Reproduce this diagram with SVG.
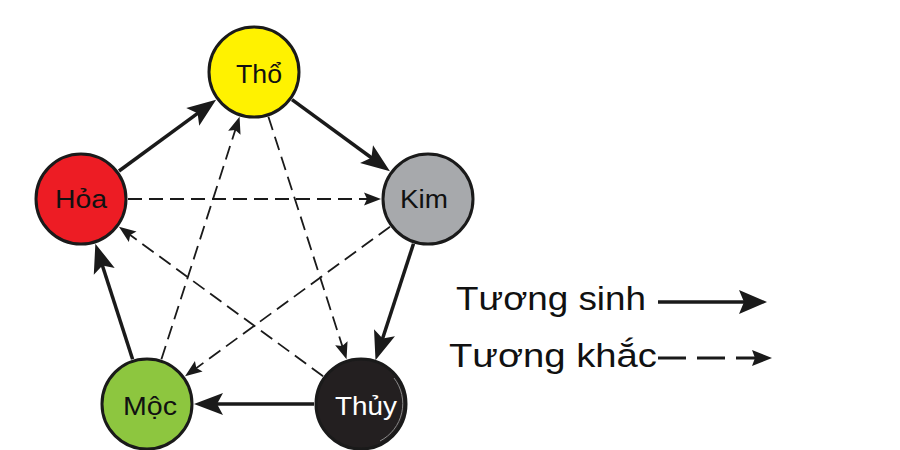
<svg xmlns="http://www.w3.org/2000/svg" width="900" height="450" viewBox="0 0 900 450">
<style>
.node{stroke:#1a1a1a;stroke-width:3}
.lbl{font-family:"Liberation Sans",Arial,sans-serif;font-size:26px;text-anchor:middle;fill:#111}
.leg{font-family:"Liberation Sans",Arial,sans-serif;font-size:34px;fill:#111}
.sinh{stroke:#1a1a1a;stroke-width:3.5;fill:none}
.khac{stroke:#1a1a1a;stroke-width:1.8;stroke-dasharray:14 7;fill:none}
</style>
<defs>
<marker id="solidHead" markerUnits="userSpaceOnUse" orient="auto" refX="0" refY="0" markerWidth="40" markerHeight="40" overflow="visible">
<path d="M20,0 L-9,-11 L-3,0 L-9,11 Z" fill="#1a1a1a"/>
</marker>
<marker id="dashHead" markerUnits="userSpaceOnUse" orient="auto" refX="0" refY="0" markerWidth="30" markerHeight="30" overflow="visible">
<path d="M8,0 L-9,-6.5 L-6,0 L-9,6.5 Z" fill="#1a1a1a"/>
</marker>
<marker id="legSolid" markerUnits="userSpaceOnUse" orient="auto" refX="0" refY="0" markerWidth="40" markerHeight="40" overflow="visible">
<path d="M20,0 L-8,-12 L-3,0 L-8,12 Z" fill="#1a1a1a"/>
</marker>
<marker id="legDash" markerUnits="userSpaceOnUse" orient="auto" refX="0" refY="0" markerWidth="30" markerHeight="30" overflow="visible">
<path d="M12,0 L-8,-8 L-5,0 L-8,8 Z" fill="#1a1a1a"/>
</marker>
</defs>
<rect width="900" height="450" fill="#ffffff"/>
<g id="connectors">
<line class="sinh" x1="119" y1="171" x2="200" y2="111.6" marker-end="url(#solidHead)"/>
<line class="sinh" x1="292" y1="99.7" x2="373.8" y2="159.5" marker-end="url(#solidHead)"/>
<line class="sinh" x1="413.5" y1="243.7" x2="381.7" y2="341.3" marker-end="url(#solidHead)"/>
<line class="sinh" x1="314" y1="404" x2="214" y2="404" marker-end="url(#solidHead)"/>
<line class="sinh" x1="132.6" y1="359.3" x2="101.5" y2="262.7" marker-end="url(#solidHead)"/>
<line class="khac" x1="128" y1="199" x2="373" y2="199" marker-end="url(#dashHead)"/>
<line class="khac" x1="161.4" y1="359.3" x2="237.1" y2="124.3" marker-end="url(#dashHead)"/>
<line class="khac" x1="268.4" y1="116.7" x2="344.1" y2="351.7" marker-end="url(#dashHead)"/>
<line class="khac" x1="390" y1="226.7" x2="191.5" y2="371.6" marker-end="url(#dashHead)"/>
<line class="khac" x1="323.1" y1="376.2" x2="125.4" y2="231.5" marker-end="url(#dashHead)"/>
</g>
<g id="node-tho">
<circle class="node" cx="254" cy="72" r="45" fill="#FFF200"/>
<text class="lbl" x="259" y="83" textLength="46" lengthAdjust="spacingAndGlyphs">Thổ</text>
</g>
<g id="node-hoa">
<circle class="node" cx="81" cy="199" r="45" fill="#ED1C24"/>
<text class="lbl" x="81" y="208" textLength="52" lengthAdjust="spacingAndGlyphs">Hỏa</text>
</g>
<g id="node-kim">
<circle class="node" cx="428" cy="199" r="45" fill="#A7A9AC"/>
<text class="lbl" x="424" y="208" textLength="48" lengthAdjust="spacingAndGlyphs">Kim</text>
</g>
<g id="node-moc">
<circle class="node" cx="147" cy="404" r="45" fill="#8DC63F"/>
<text class="lbl" x="150" y="415" textLength="54" lengthAdjust="spacingAndGlyphs">Mộc</text>
</g>
<g id="node-thuy">
<circle class="node" cx="361" cy="404" r="45" fill="#231F20"/>
<path d="M394,378 A42,42 0 0 1 380,441" fill="none" stroke="#8a8a8a" stroke-width="1"/>
<text class="lbl" x="366" y="415" style="fill:#ffffff" textLength="62" lengthAdjust="spacingAndGlyphs">Thủy</text>
</g>
<g id="legend">
<text class="leg" x="456" y="310" textLength="190" lengthAdjust="spacingAndGlyphs">Tương sinh</text>
<line class="sinh" x1="658" y1="302" x2="747" y2="302" marker-end="url(#legSolid)"/>
<text class="leg" x="449" y="367" textLength="208" lengthAdjust="spacingAndGlyphs">Tương khắc</text>
<line x1="658" y1="358" x2="760" y2="358" stroke="#1a1a1a" stroke-width="3" stroke-dasharray="28 11" marker-end="url(#legDash)"/>
</g>
</svg>
